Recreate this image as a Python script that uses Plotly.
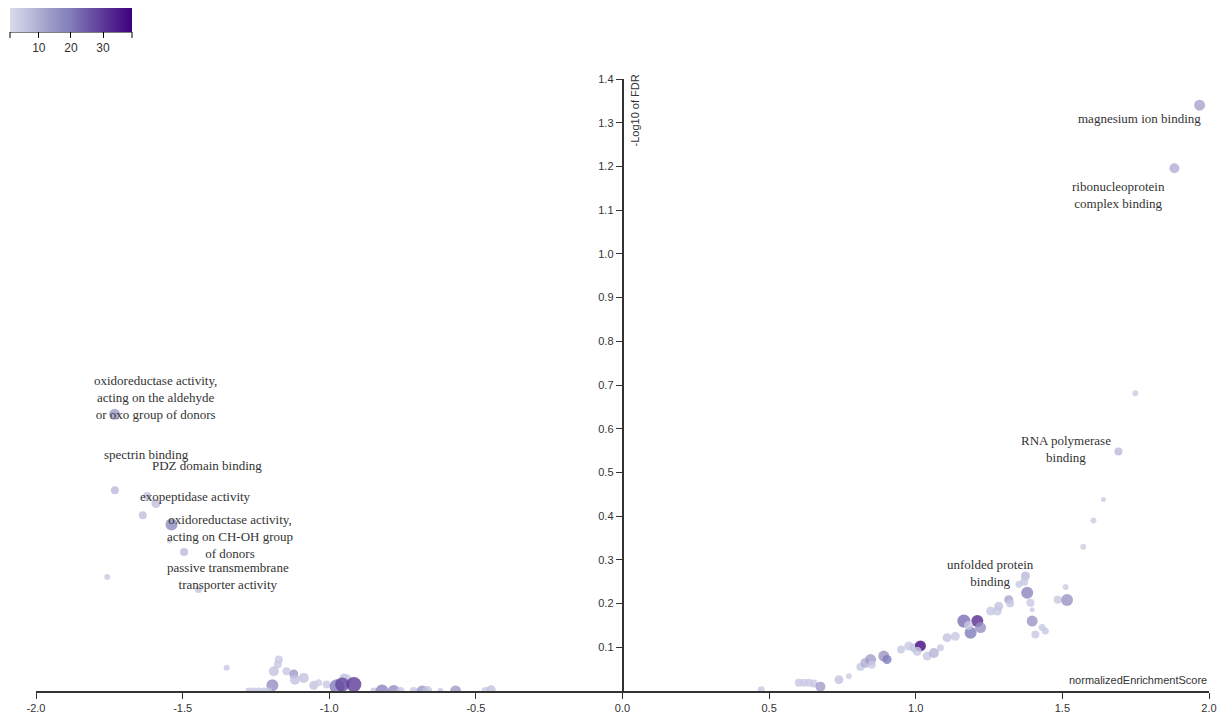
import plotly.graph_objects as go

# ---- data ----
nes = [-1.732, -1.731, -1.621, -1.591, -1.636, -1.538, -1.545, -1.495, -1.757, -1.446,
       -1.350, -1.172, -1.175, -1.189, -1.194, -1.274, -1.257, -1.240, -1.223, -1.206,
       -1.146, -1.121, -1.117, -1.087, -1.053, -1.036, -1.009, -0.973, -0.950, -0.940,
       -0.956, -0.916, -0.848, -0.820, -0.780, -0.757, -0.712, -0.683, -0.666, -0.621,
       -0.569, -0.467, -0.448,
       0.473, 0.601, 0.618, 0.635, 0.652, 0.675, 0.738, 0.772, 0.811, 0.828,
       0.846, 0.850, 0.891, 0.902, 0.950, 0.976, 0.994, 1.016, 1.005, 1.039,
       1.062, 1.084, 1.107, 1.135, 1.164, 1.187, 1.210, 1.221, 1.180, 1.255,
       1.283, 1.278, 1.317, 1.322, 1.374, 1.352, 1.370, 1.380, 1.391, 1.397,
       1.397, 1.408, 1.431, 1.442, 1.484, 1.516, 1.511, 1.571, 1.606, 1.640,
       1.691, 1.749, 1.882, 1.968]
neg_log_fdr = [0.633, 0.459, 0.446, 0.429, 0.402, 0.381, 0.343, 0.318, 0.261, 0.232,
               0.053, 0.072, 0.061, 0.045, 0.013, 0.0, 0.0, 0.0, 0.0, 0.0,
               0.045, 0.039, 0.026, 0.030, 0.013, 0.019, 0.015, 0.010, 0.030, 0.028,
               0.015, 0.015, 0.0, 0.0, 0.0, 0.0, 0.0, 0.0, 0.0, 0.0,
               0.0, 0.0, 0.003,
               0.003, 0.019, 0.019, 0.019, 0.017, 0.010, 0.026, 0.034, 0.055, 0.064,
               0.072, 0.060, 0.080, 0.072, 0.095, 0.103, 0.099, 0.103, 0.091, 0.080,
               0.087, 0.099, 0.122, 0.125, 0.160, 0.133, 0.160, 0.145, 0.150, 0.183,
               0.194, 0.183, 0.209, 0.200, 0.263, 0.244, 0.250, 0.225, 0.202, 0.186,
               0.160, 0.129, 0.145, 0.137, 0.209, 0.208, 0.238, 0.330, 0.390, 0.438,
               0.548, 0.681, 1.196, 1.340]
gene_count = [14, 8, 6, 7, 7, 17, 3, 8, 5, 6,
              5, 5, 5, 6, 16, 5, 5, 5, 5, 5,
              5, 14, 6, 6, 6, 4, 5, 20, 6, 5,
              28, 30, 5, 18, 16, 5, 5, 14, 6, 5,
              14, 5, 6,
              5, 5, 5, 5, 5, 13, 6, 4, 5, 10,
              13, 5, 15, 20, 5, 5, 6, 38, 5, 5,
              9, 5, 6, 5, 22, 20, 32, 16, 5, 5,
              6, 5, 12, 5, 8, 5, 5, 18, 5, 4,
              15, 5, 5, 5, 5, 15, 4, 4, 4, 4,
              8, 4, 10, 12]
set_size = [11, 8, 8, 9, 8, 12, 5, 8, 6, 7,
            6, 8, 8, 10, 12, 7, 7, 7, 7, 7,
            8, 9, 10, 10, 9, 7, 8, 15, 9, 9,
            14, 15, 7, 13, 12, 8, 8, 11, 10, 6,
            11, 8, 9,
            7, 8, 8, 8, 8, 10, 9, 6, 8, 10,
            11, 8, 11, 9, 8, 9, 9, 11, 9, 9,
            10, 7, 9, 9, 13, 12, 12, 11, 9, 9,
            9, 9, 9, 8, 9, 7, 8, 12, 8, 5,
            11, 8, 7, 7, 8, 12, 6, 6, 6, 5,
            8, 6, 10, 11]

labels = {
    0: "oxidoreductase activity,<br>acting on the aldehyde<br>or oxo group of donors",
    1: "spectrin binding",
    2: "PDZ domain binding",
    3: "exopeptidase activity",
    5: "oxidoreductase activity,<br>acting on CH-OH group<br>of donors",
    9: "passive transmembrane<br>transporter activity",
    77: "unfolded protein<br>binding",
    93: "RNA polymerase<br>binding",
    95: "ribonucleoprotein<br>complex binding",
    96: "magnesium ion binding",
}
x_tick_vals = [-2.0, -1.5, -1.0, -0.5, 0.0, 0.5, 1.0, 1.5, 2.0]
x_tick_text = ["-2.0", "-1.5", "-1.0", "-0.5", "0.0", "0.5", "1.0", "1.5", "2.0"]
y_tick_vals = [0.1, 0.2, 0.3, 0.4, 0.5, 0.6, 0.7, 0.8, 0.9, 1.0, 1.1, 1.2, 1.3, 1.4]
y_tick_text = ["0.1", "0.2", "0.3", "0.4", "0.5", "0.6", "0.7", "0.8", "0.9", "1.0",
               "1.1", "1.2", "1.3", "1.4"]
cbar_ticks = [10, 20, 30]

# ---- label offsets (pixels) ----
label_shift = {
    0: (41, 17), 1: (32, 36), 2: (60, 31), 3: (40, 7), 5: (59, -12),
    9: (30, 14), 77: (-35, 3), 93: (-52, 2), 95: (-56, -27), 96: (-60, -13),
}

purples = [[0.0, "#dadaeb"], [1/6, "#bcbddc"], [2/6, "#9e9ac8"], [3/6, "#807dba"],
           [4/6, "#6a51a3"], [5/6, "#54278f"], [1.0, "#3f007d"]]

# figure geometry (page has an 8px body margin)
W, H = 1219, 709
ML, MT, PW, PH = 28, 71, 1173, 612

fig = go.Figure()
fig.add_trace(go.Scatter(
    x=nes, y=neg_log_fdr, mode="markers",
    marker=dict(size=set_size, color=gene_count, colorscale=purples, cmin=1, cmax=39,
                opacity=0.8, line=dict(width=0),
                colorbar=dict(orientation="h", xref="container", yref="container",
                              x=2 / W, y=1.0, xanchor="left", yanchor="top",
                              lenmode="pixels", len=122, thickness=24,
                              xpad=0, ypad=0, outlinewidth=0,
                              tickvals=cbar_ticks, ticks="outside", ticklen=6,
                              tickcolor="#000",
                              tickfont=dict(family="Liberation Sans", size=12, color="#333"))),
    hoverinfo="x+y", showlegend=False,
))

for i, txt in labels.items():
    dx, dy = label_shift[i]
    fig.add_annotation(x=nes[i], y=neg_log_fdr[i], text=txt, showarrow=False,
                       xshift=dx, yshift=dy, xanchor="center", yanchor="middle",
                       font=dict(family="Liberation Serif", size=13, color="#333"))

fig.add_annotation(x=2.0, y=0, text="normalizedEnrichmentScore", showarrow=False,
                   xanchor="right", yanchor="bottom", yshift=3,
                   font=dict(family="Liberation Sans", size=11, color="#333"))
fig.add_annotation(x=0, y=1.4, text="-Log10 of FDR", showarrow=False, textangle=-90,
                   xanchor="left", yanchor="top", xshift=4, yshift=6,
                   font=dict(family="Liberation Sans", size=11, color="#333"))

# colorbar axis line with end caps
cb_y = (MT + PH - 24) / PH
cb_x0 = (2 - ML) / PW
cb_x1 = (124 - ML) / PW
fig.add_shape(type="line", xref="paper", yref="paper", x0=cb_x0, x1=cb_x1,
              y0=cb_y, y1=cb_y, line=dict(color="#000", width=1))
for cx in (cb_x0, cb_x1):
    fig.add_shape(type="line", xref="paper", yref="paper", x0=cx, x1=cx,
                  y0=cb_y, y1=cb_y - 6 / PH, line=dict(color="#000", width=1))

fig.update_layout(
    width=W, height=H,
    margin=dict(l=ML, r=W - ML - PW, t=MT, b=H - MT - PH, autoexpand=False),
    paper_bgcolor="white", plot_bgcolor="white",
    xaxis=dict(range=[-2, 2], tickvals=x_tick_vals, ticktext=x_tick_text,
               showline=True, linecolor="#333", linewidth=1.5, ticks="outside",
               ticklen=6, tickcolor="#333", showgrid=False, zeroline=False,
               tickfont=dict(family="Liberation Sans", size=11, color="#333")),
    yaxis=dict(range=[0, 1.4], tickvals=y_tick_vals, ticktext=y_tick_text,
               anchor="free", position=0.5,
               showline=True, linecolor="#333", linewidth=1.5, ticks="outside",
               ticklen=6, tickcolor="#333", showgrid=False, zeroline=False,
               tickfont=dict(family="Liberation Sans", size=11, color="#333")),
)

fig.write_html("out.html")
